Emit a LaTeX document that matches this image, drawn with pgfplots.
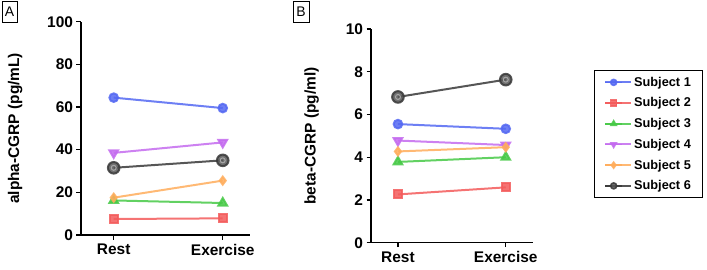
\documentclass[border=0pt]{standalone}
\usepackage{fontspec}
\setmainfont{Liberation Sans}
\usepackage{pgfplots}
\pgfplotsset{compat=1.18}
\definecolor{cS1}{HTML}{5468F2}
\definecolor{cS2}{HTML}{F35B5B}
\definecolor{cS3}{HTML}{47C947}
\definecolor{cS4}{HTML}{C46BEF}
\definecolor{cS5}{HTML}{FFAD5C}
\definecolor{cS6}{HTML}{383838}
\pgfplotsset{
  panel/.style={
    scale only axis,
    axis lines=left,
    axis line style={-, line width=1.4bp, black},
    every tick/.style={line width=1.4bp, black},
    tick align=outside,
    major tick length=4.5bp,
    xmin=-0.3, xmax=1.25,
    xtick={0,1}, xticklabels={Rest,Exercise},
    ymin=0,
    tick label style={font=\bfseries\fontsize{15.5}{18}\selectfont},
    /pgf/number format/assume math mode=true,
    label style={font=\bfseries\fontsize{15.5}{18}\selectfont},
    clip=false,
    xticklabel style={yshift=-1bp},
  },
  s1/.style={cS1, line width=2bp, opacity=0.85, mark=*, mark size=4.3bp},
  s2/.style={cS2, line width=2bp, opacity=0.85, mark=square*, mark size=4bp},
  s3/.style={cS3, line width=2bp, opacity=0.85, mark=triangle*, mark size=5bp},
  s4/.style={cS4, line width=2bp, opacity=0.85, mark=triangle*, mark size=5bp, mark options={rotate=180}},
  s5/.style={cS5, line width=2bp, opacity=0.85, mark=diamond*, mark size=4bp},
  s6/.style={cS6, line width=2bp, opacity=0.85, mark=*, mark size=5.8bp, mark options={fill=cS6!85!white}},
  ring/.style={gray!70!white, mark=o, mark size=2.5bp, only marks, line width=1bp, forget plot},
}
\begin{document}
\begin{tikzpicture}
\path[use as bounding box] (0,0) rectangle (707bp,270bp);
\node[draw, line width=0.8bp, minimum width=15bp, minimum height=21bp, inner sep=0pt, font=\fontsize{14}{16}\selectfont] at (9.5bp,258bp) {A};
\node[draw, line width=0.8bp, minimum width=16bp, minimum height=21bp, inner sep=0pt, font=\fontsize{14}{16}\selectfont] at (301bp,258bp) {B};
\begin{axis}[panel,
  at={(81bp,35bp)}, anchor=south west,
  width=169bp, height=213.3bp,
  ymax=100, ytick={0,20,40,60,80,100},
  ylabel={alpha-CGRP (pg/mL)},
  ylabel style={at={(axis description cs:-0.39,0.5)}, anchor=center},
]
\addplot[s1] coordinates {(0,64.4) (1,59.5)};
\addplot[s2] coordinates {(0,7.5) (1,7.8)};
\addplot[s3] coordinates {(0,16.2) (1,15.0)};
\addplot[s4] coordinates {(0,38.5) (1,43.4)};
\addplot[s5] coordinates {(0,17.5) (1,25.5)};
\addplot[s6] coordinates {(0,31.5) (1,35.0)};
\addplot[ring] coordinates {(0,31.5) (1,35.0)};
\end{axis}
\begin{axis}[panel,
  at={(371bp,27.3bp)}, anchor=south west,
  width=161.7bp, height=213.7bp,
  xmin=-0.25,
  ymax=10, ytick={0,2,4,6,8,10},
  ylabel={beta-CGRP (pg/ml)},
  ylabel style={at={(axis description cs:-0.367,0.5)}, anchor=center},
  legend style={at={(axis description cs:1.377,0.808)}, anchor=north west,
    draw=black, line width=1bp, fill=white,
    font=\bfseries\fontsize{12.8}{15}\selectfont,
    row sep=0pt, nodes={minimum height=20.7bp, inner ysep=0pt},
    inner xsep=10bp, inner ysep=1.5bp,
    cells={anchor=west}},
  legend image code/.code={
    \path (0bp,0bp) -- (26bp,0bp);
    \draw[mark repeat=2, mark phase=2, #1, line width=1.6bp, mark size=3bp]
      plot coordinates {(0bp,0bp) (8.5bp,0bp) (17bp,0bp)};},
]
\addplot[s1] coordinates {(0,5.55) (1,5.33)};
\addlegendentry{Subject 1}
\addplot[s2] coordinates {(0,2.26) (1,2.59)};
\addlegendentry{Subject 2}
\addplot[s3] coordinates {(0,3.78) (1,4.0)};
\addlegendentry{Subject 3}
\addplot[s4] coordinates {(0,4.78) (1,4.57)};
\addlegendentry{Subject 4}
\addplot[s5] coordinates {(0,4.27) (1,4.47)};
\addlegendentry{Subject 5}
\addplot[s6] coordinates {(0,6.82) (1,7.63)};
\addlegendentry{Subject 6}
\addplot[ring] coordinates {(0,6.82) (1,7.63)};
\end{axis}
\end{tikzpicture}
\end{document}
